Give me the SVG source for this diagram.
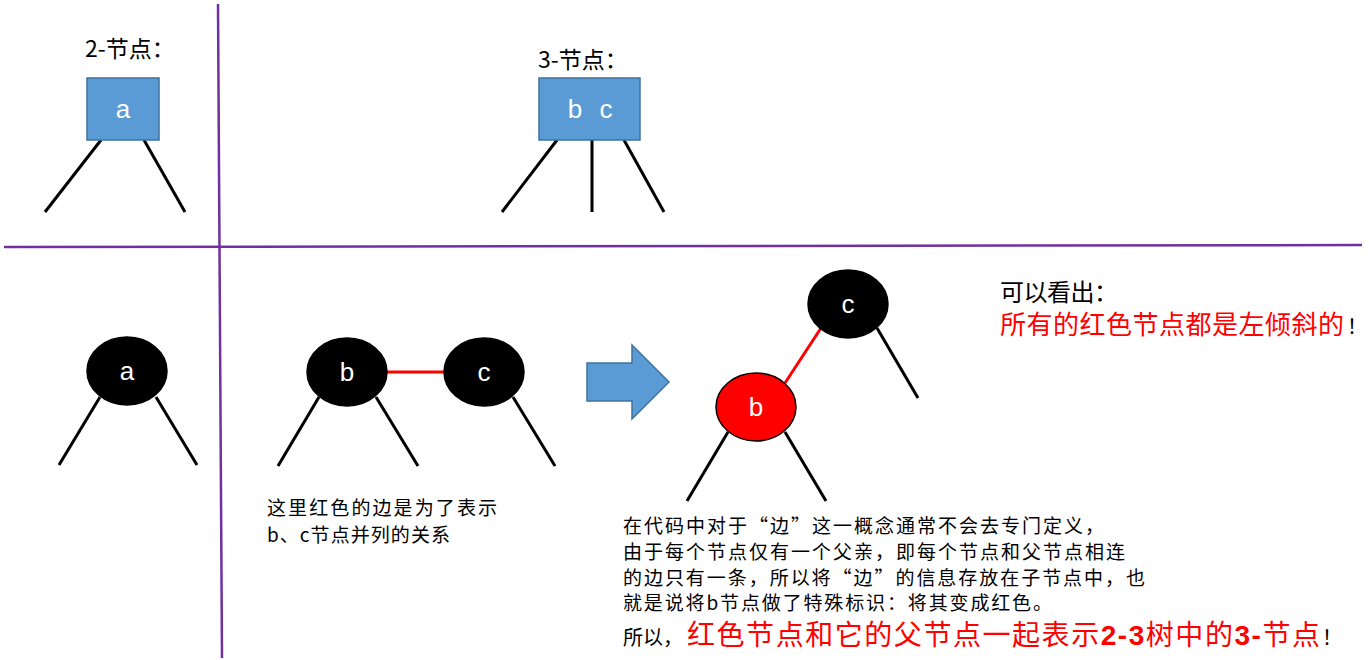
<svg xmlns="http://www.w3.org/2000/svg" width="1369" height="660" viewBox="0 0 1369 660">
<style>
.cjk{font-family:"Noto Sans CJK SC","Liberation Sans",sans-serif;fill:#000}
.red{fill:#FF0000}
.lbl{font-family:"Liberation Sans",sans-serif;font-size:26px;fill:#fff;text-anchor:middle}
.box{fill:#5B9BD5;stroke:#41719C;stroke-width:1.5}
.blk{fill:#000;stroke:#000;stroke-width:1.5}
.rnode{fill:#FF0000;stroke:#000;stroke-width:1.5}
.edge{stroke:#000;stroke-width:3;fill:none}
.redge{stroke:#FF0000;stroke-width:3;fill:none}
.div{stroke:#7030A0;stroke-width:2.5;fill:none}
</style>
<rect width="1369" height="660" fill="#fff"/>
<g id="dividers">
<line class="div" x1="218" y1="4" x2="222" y2="658"/>
<line class="div" x1="4" y1="247" x2="1362" y2="245"/>
</g>
<g id="connectors">
<line class="edge" x1="101" y1="140" x2="45" y2="212"/>
<line class="edge" x1="144" y1="140" x2="185" y2="212"/>
<line class="edge" x1="557" y1="140" x2="502" y2="212"/>
<line class="edge" x1="592" y1="140" x2="592" y2="212"/>
<line class="edge" x1="624" y1="140" x2="664" y2="212"/>
<line class="edge" x1="100" y1="397" x2="59" y2="465"/>
<line class="edge" x1="156" y1="397" x2="197" y2="465"/>
<line class="edge" x1="319" y1="397" x2="278" y2="466"/>
<line class="edge" x1="376" y1="397" x2="418" y2="466"/>
<line class="edge" x1="513" y1="397" x2="555" y2="466"/>
<line class="redge" x1="387" y1="372" x2="444" y2="372"/>
<line class="redge" x1="821" y1="328" x2="785" y2="383"/>
<line class="edge" x1="877" y1="328" x2="918" y2="398"/>
<line class="edge" x1="728" y1="432" x2="687" y2="501"/>
<line class="edge" x1="785" y1="432" x2="826" y2="501"/>
</g>
<g id="node-2">
<rect class="box" x="87" y="78" width="72" height="62"/>
<text class="lbl" x="123" y="118">a</text>
</g>
<g id="node-3">
<rect class="box" x="539" y="78" width="101" height="62"/>
<text class="lbl" x="575" y="118">b</text>
<text class="lbl" x="606" y="118">c</text>
</g>
<g id="node-a">
<ellipse class="blk" cx="127" cy="371" rx="40" ry="34"/>
<text class="lbl" x="127" y="380">a</text>
</g>
<g id="node-b1">
<ellipse class="blk" cx="347" cy="372" rx="40" ry="34"/>
<text class="lbl" x="347" y="381">b</text>
</g>
<g id="node-c1">
<ellipse class="blk" cx="484" cy="372" rx="40" ry="34"/>
<text class="lbl" x="484" y="381">c</text>
</g>
<g id="node-c2">
<ellipse class="blk" cx="848" cy="304" rx="40" ry="34"/>
<text class="lbl" x="848" y="313">c</text>
</g>
<g id="node-b2">
<ellipse class="rnode" cx="756" cy="407" rx="40" ry="34"/>
<text class="lbl" x="756" y="416">b</text>
</g>
<g id="arrow">
<polygon class="box" points="587,363 632,363 632,345 669,382 632,419 632,401 587,401"/>
</g>
<g id="texts">
<text class="cjk" x="85" y="57" font-size="23">2-节点：</text>
<text class="cjk" x="538" y="68" font-size="23">3-节点：</text>
<text class="cjk" x="267" y="515" font-size="19" textLength="230" lengthAdjust="spacing">这里红色的边是为了表示</text>
<text class="cjk" x="267" y="542" font-size="19" textLength="183" lengthAdjust="spacing">b、c节点并列的关系</text>
<text class="cjk" x="1000" y="301" font-size="24" textLength="118" lengthAdjust="spacing">可以看出：</text>
<text class="cjk red" x="1000" y="334" font-size="26" textLength="344" lengthAdjust="spacing">所有的红色节点都是左倾斜的</text>
<text class="cjk" x="1347" y="334" font-size="20">！</text>
<text class="cjk" x="623" y="533" font-size="19" textLength="481" lengthAdjust="spacing">在代码中对于“边”这一概念通常不会去专门定义，</text>
<text class="cjk" x="623" y="559" font-size="19" textLength="502" lengthAdjust="spacing">由于每个节点仅有一个父亲，即每个节点和父节点相连</text>
<text class="cjk" x="623" y="585" font-size="19" textLength="522" lengthAdjust="spacing">的边只有一条，所以将“边”的信息存放在子节点中，也</text>
<text class="cjk" x="623" y="610" font-size="19" textLength="429" lengthAdjust="spacing">就是说将b节点做了特殊标识：将其变成红色。</text>
<text class="cjk" x="623" y="645" font-size="20">所以，</text>
<text class="cjk red" x="687" y="645" font-size="28" textLength="633" lengthAdjust="spacing">红色节点和它的父节点一起表示<tspan font-weight="bold" font-family="Liberation Sans,sans-serif">2-3</tspan>树中的<tspan font-weight="bold" font-family="Liberation Sans,sans-serif">3-</tspan>节点</text>
<text class="cjk" x="1322" y="645" font-size="20">！</text>
</g>
</svg>
